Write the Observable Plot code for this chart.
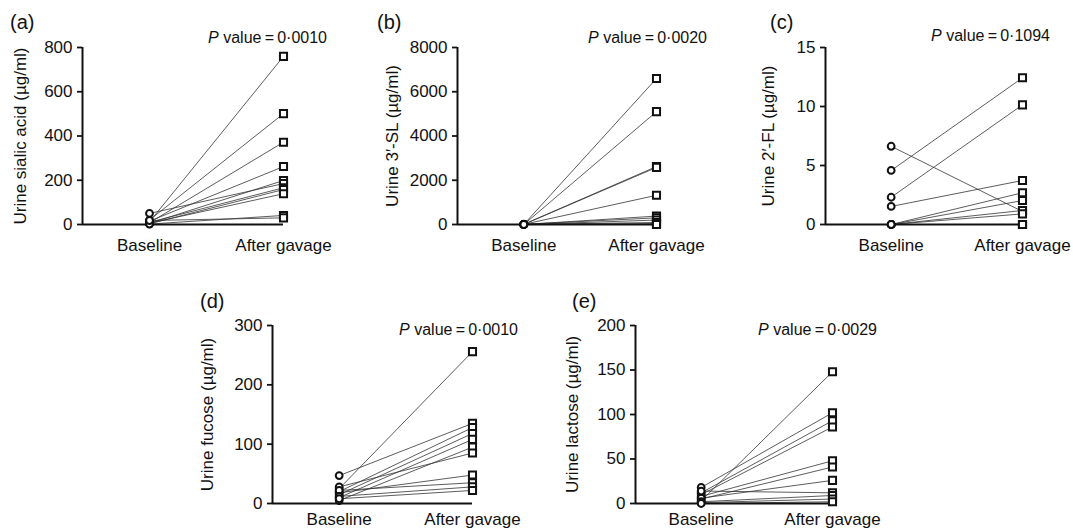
<!DOCTYPE html>
<html>
<head>
<meta charset="utf-8">
<script src="https://cdn.jsdelivr.net/npm/d3@7"></script>
<script src="https://cdn.jsdelivr.net/npm/@observablehq/plot@0.6"></script>
<style>
  html, body { margin: 0; padding: 0; background: #fff; }
  #wrap { position: relative; width: 1073px; height: 528px; overflow: hidden; font-family: "Liberation Sans", Arial, sans-serif; color: #111; }
  .panel { position: absolute; }
  .plab { position: absolute; font-size: 20px; line-height: 1; }
  .pval { position: absolute; font-size: 16px; line-height: 1; white-space: nowrap; transform: translate(-100%, -50%); }
</style>
</head>
<body>
<div id="wrap"></div>
<script>
// ---- data ----
const categories = ["Baseline", "After gavage"];
const panelIds = ["(a)", "(b)", "(c)", "(d)", "(e)"];
const yLabels = ["Urine sialic acid (µg/ml)", "Urine 3′-SL (µg/ml)", "Urine 2′-FL (µg/ml)", "Urine fucose (µg/ml)", "Urine lactose (µg/ml)"];
const pValues = ["0·0010", "0·0020", "0·1094", "0·0010", "0·0029"];

const yTicksA = [0, 200, 400, 600, 800];
const yTicksB = [0, 2000, 4000, 6000, 8000];
const yTicksC = [0, 5, 10, 15];
const yTicksD = [0, 100, 200, 300];
const yTicksE = [0, 50, 100, 150, 200];

const sialicBaseline = [12, 20, 8, 15, 5, 50, 10, 3, 6, 2, 18];
const sialicAfter    = [760, 501, 372, 262, 199, 185, 166, 158, 139, 41, 30];

const slBaseline = [5, 0, 10, 3, 8, 0, 12, 2, 6, 4, 0];
const slAfter    = [6600, 5100, 2620, 2580, 1320, 380, 300, 200, 90, 40, 0];

const flBaseline = [6.63, 4.58, 2.31, 1.53, 0, 0, 0, 0, 0, 0, 0];
const flAfter    = [1.1, 12.43, 10.14, 3.73, 2.69, 2.03, 1.19, 0.9, 0, 0, 0];

const fucBaseline = [25, 47, 20, 15, 10, 5, 28, 18, 22, 12, 8];
const fucAfter    = [256, 135, 128, 118, 108, 95, 85, 48, 35, 28, 22];

const lacBaseline = [3, 18, 12, 10, 8, 5, 6, 14, 2, 1, 0];
const lacAfter    = [148, 102, 93, 86, 48, 41, 26, 12, 9, 5, 2];

// ---- layout ----
const panels = [
  {id: 0, base: sialicBaseline, after: sialicAfter, ticks: yTicksA, left: 0,   top: 0,   width: 360, height: 260, ml: 82, mr: 77, mt: 47, mb: 36, pad: 14, ldx: -62, labX: 10,  labY: 12,  pX: 327,  pY: 38},
  {id: 1, base: slBaseline,     after: slAfter,     ticks: yTicksB, left: 360, top: 0,   width: 360, height: 260, ml: 97, mr: 64, mt: 47, mb: 36, pad: 14, ldx: -65, labX: 377, labY: 12,  pX: 707,  pY: 38},
  {id: 2, base: flBaseline,     after: flAfter,     ticks: yTicksC, left: 720, top: 0,   width: 353, height: 260, ml: 105, mr: 51, mt: 47, mb: 36, pad: 14, ldx: -57, labX: 770, labY: 12, pX: 1050, pY: 36},
  {id: 3, base: fucBaseline,    after: fucAfter,    ticks: yTicksD, left: 180, top: 270, width: 360, height: 258, ml: 92, mr: 68, mt: 55, mb: 25, pad: 9, ldx: -65, labX: 200, labY: 291, pX: 518,  pY: 330},
  {id: 4, base: lacBaseline,    after: lacAfter,    ticks: yTicksE, left: 540, top: 270, width: 360, height: 258, ml: 95, mr: 68, mt: 55, mb: 25, pad: 9, ldx: -63, labX: 572, labY: 291, pX: 877,  pY: 330}
];

const wrap = document.getElementById("wrap");
const ink = "#111";

for (const p of panels) {
  const data = p.base.map((b, i) => ({b, a: p.after[i]}));
  const ymax = p.ticks[p.ticks.length - 1];
  const chart = Plot.plot({
    width: p.width,
    height: p.height,
    marginLeft: p.ml,
    marginRight: p.mr,
    marginTop: p.mt,
    marginBottom: p.mb,
    style: {fontFamily: "'Liberation Sans', Arial, sans-serif", fontSize: "17px", background: "transparent", overflow: "visible", color: ink},
    x: {domain: [0, 3], axis: null},
    y: {domain: [0, ymax], axis: null},
    marks: [
      Plot.link(data, {x1: () => 1, y1: "b", x2: () => 3, y2: "a", stroke: "#333", strokeWidth: 0.8}),
      Plot.ruleY([0], {stroke: ink, strokeWidth: 2}),
      Plot.ruleX([0], {y1: 0, y2: ymax, stroke: ink, strokeWidth: 2}),
      Plot.axisY({ticks: p.ticks, tickFormat: d => String(d), tickSize: 5, tickPadding: 5, label: null, strokeWidth: 1.8}),
      Plot.axisX({ticks: [1, 3], tickFormat: d => d === 1 ? categories[0] : categories[1], tickSize: 0, tickPadding: p.pad, label: null}),
      Plot.text([yLabels[p.id]], {frameAnchor: "left", textAnchor: "middle", dx: p.ldx, rotate: -90, fontSize: 17, fill: ink}),
      Plot.dot(data, {x: () => 1, y: "b", symbol: "circle", r: 3.4, fill: "white", stroke: ink, strokeWidth: 2}),
      Plot.dot(data, {x: () => 3, y: "a", symbol: "square", r: 4, fill: "white", stroke: ink, strokeWidth: 2})
    ]
  });
  chart.classList.add("panel");
  chart.style.left = p.left + "px";
  chart.style.top = p.top + "px";
  wrap.appendChild(chart);

  const lab = document.createElement("div");
  lab.className = "plab";
  lab.style.left = p.labX + "px";
  lab.style.top = p.labY + "px";
  lab.textContent = panelIds[p.id];
  wrap.appendChild(lab);

  const pv = document.createElement("div");
  pv.className = "pval";
  pv.style.left = p.pX + "px";
  pv.style.top = p.pY + "px";
  pv.innerHTML = "<i>P</i> value\u2009=\u2009" + pValues[p.id];
  wrap.appendChild(pv);
}
</script>
</body>
</html>
